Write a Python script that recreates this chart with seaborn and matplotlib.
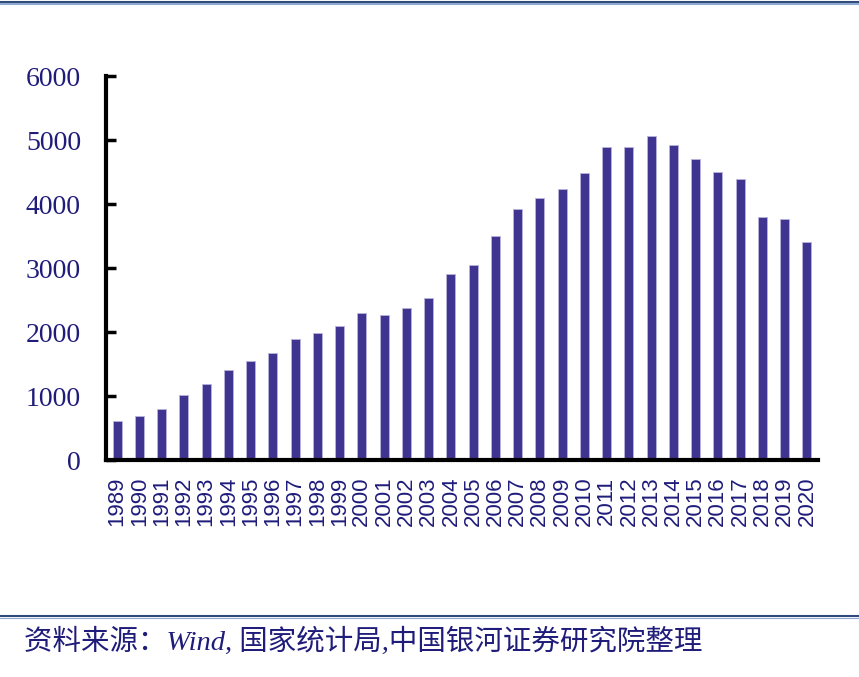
import matplotlib
matplotlib.use("Agg")
import matplotlib.pyplot as plt
import seaborn as sns
import pandas as pd
from matplotlib.lines import Line2D

years = [str(y) for y in range(1989, 2021)]
values = [609, 688, 804, 1008, 1185, 1410, 1546, 1677, 1887, 1991, 2091, 2300,
          2273, 2378, 2531, 2912, 3045, 3500, 3920, 4095, 4234, 4480, 4895, 4895,
          5057, 4917, 4703, 4500, 4390, 3802, 3760, 3401]
yticks = [0, 1000, 2000, 3000, 4000, 5000, 6000]
source_text = "资料来源：Wind, 国家统计局,中国银河证券研究院整理"

sns.set_style("white")
plt.rcParams['font.family'] = ['Liberation Serif', 'Noto Sans CJK SC', 'DejaVu Sans']

df = pd.DataFrame({"year": years, "value": values})

W, H = 859, 677
fig = plt.figure(figsize=(W / 100, H / 100), dpi=100)
ax = fig.add_axes([106 / W, 1 - 460 / H, (818 - 106) / W, (460 - 76) / H])

sns.barplot(data=df, x="year", y="value", color="#3F3590", width=0.4,
            saturation=1, ax=ax, edgecolor="#B9B4DA", linewidth=0.6)

ax.set_xlim(-0.5, len(years) - 0.5)
ax.set_ylim(0, 6000)
ax.set_yticks(yticks)
ax.set_yticklabels([str(t) for t in yticks], fontsize=20, color="#1F1C7A",
                   family="Liberation Serif")
ax.tick_params(axis="y", left=True, direction="in", length=7, width=2.5, pad=18,
               color="black")
ax.tick_params(axis="x", bottom=False, length=0, pad=12)
ax.set_xticks(range(len(years)))
ax.set_xticklabels(years, rotation=90, fontsize=16, color="#1F1C7A",
                   family="Liberation Sans", va="top")
ax.set_xlabel("")
ax.set_ylabel("")
for s in ["top", "right"]:
    ax.spines[s].set_visible(False)
for s in ["left", "bottom"]:
    ax.spines[s].set_linewidth(3)
    ax.spines[s].set_color("black")
ax.grid(False)

# header double line
fig.add_artist(Line2D([0, 1], [1 - 1.5 / H, 1 - 1.5 / H], color="#2E4A7A", lw=1.5))
fig.add_artist(Line2D([0, 1], [1 - 3.5 / H, 1 - 3.5 / H], color="#8FA8CF", lw=1.5))
# footer line
fig.add_artist(Line2D([0, 1], [1 - 616 / H, 1 - 616 / H], color="#2E4A7A", lw=1.5))
fig.add_artist(Line2D([0, 1], [1 - 617.5 / H, 1 - 617.5 / H], color="#8FA8CF", lw=0.8))

fig.text(24 / W, 1 - 642 / H, source_text, fontsize=20.5, color="#1F1C7A",
         va="center", ha="left", style="italic",
         family=['Liberation Serif', 'Noto Sans CJK SC'])

fig.savefig("out.png", dpi=100)
